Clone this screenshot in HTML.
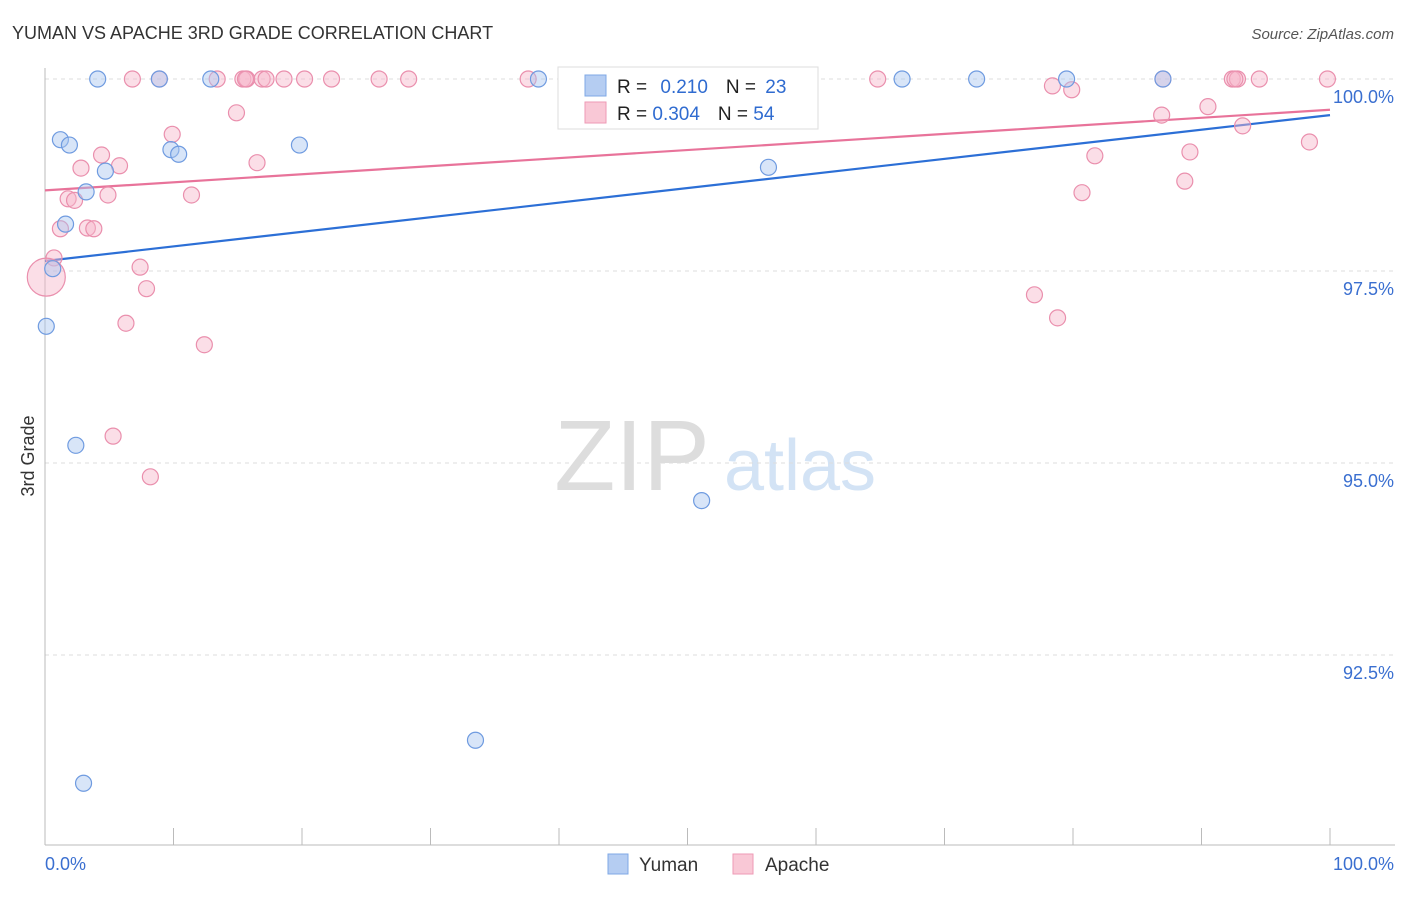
<!DOCTYPE html>
<html><head><meta charset="utf-8"><style>
body{margin:0;background:#fff;font-family:"Liberation Sans",sans-serif;}
svg text{font-family:"Liberation Sans",sans-serif;}
</style></head><body>
<svg width="1406" height="892" xmlns="http://www.w3.org/2000/svg">
<text x="12" y="39" font-size="18" fill="#333">YUMAN VS APACHE 3RD GRADE CORRELATION CHART</text>
<text x="1394" y="39" font-size="15" fill="#555" font-style="italic" text-anchor="end">Source: ZipAtlas.com</text>
<g>
<text x="632" y="490" font-size="100" fill="#ddd" font-family="Liberation Serif,serif" text-anchor="middle">ZIP</text>
<text x="800" y="490" font-size="72" fill="#d3e3f5" text-anchor="middle">atlas</text>
</g>
<g id="grid"></g>
<g id="axes"></g>
<g id="lines"></g>
<g id="pts"></g>
<text transform="translate(34,456) rotate(-90)" font-size="18" fill="#333" text-anchor="middle">3rd Grade</text>
<text x="45" y="870" font-size="18" fill="#3a6fd0">0.0%</text>
<text x="1394" y="870" font-size="18" fill="#3a6fd0" text-anchor="end">100.0%</text>
<g>
<rect x="558" y="67" width="260" height="62" fill="#fff" stroke="#ddd"/>
<rect x="585" y="75" width="21" height="21" fill="#b5cdf2" stroke="#7fa8e6"/>
<rect x="585" y="102" width="21" height="21" fill="#f9c8d6" stroke="#ee9ab5"/>
<text x="617" y="93" font-size="19" fill="#222">R = <tspan fill="#2f6bd0" dx="8">0.210</tspan><tspan dx="18" fill="#222">N = </tspan><tspan fill="#2f6bd0" dx="4">23</tspan></text>
<text x="617" y="120" font-size="19" fill="#222">R = <tspan fill="#2f6bd0">0.304</tspan><tspan dx="18" fill="#222">N = </tspan><tspan fill="#2f6bd0">54</tspan></text>
</g>
<g>
<rect x="608" y="854" width="20" height="20" fill="#b5cdf2" stroke="#7fa8e6"/>
<text x="639" y="871" font-size="19" fill="#333">Yuman</text>
<rect x="733" y="854" width="20" height="20" fill="#f9c8d6" stroke="#ee9ab5"/>
<text x="765" y="871" font-size="19" fill="#333">Apache</text>
</g>
</svg>
<script>
const yTicks=[100,97.5,95,92.5];
const yTickLabels=["100.0%","97.5%","95.0%","92.5%"];
const yumanX=[4.1,8.9,12.9,38.4,66.7,72.5,79.5,87.0,1.2,1.9,9.8,10.4,19.8,4.7,3.2,1.6,0.6,0.1,2.4,51.1,56.3,33.5,3.0];
const yumanY=[100,100,100,100,100,100,100,100,99.21,99.14,99.08,99.02,99.14,98.80,98.53,98.11,97.53,96.78,95.23,94.51,98.85,91.39,90.83];
const apacheX=[6.8,8.9,13.4,15.4,15.7,16.9,17.2,18.6,20.2,22.3,26.0,28.3,37.6,64.8,87.0,92.4,92.8,94.5,99.8,78.4,79.9,14.9,9.9,90.5,86.9,93.2,98.4,4.4,5.8,16.5,2.8,81.7,89.1,1.8,2.3,4.9,11.4,80.7,88.7,1.2,3.3,3.8,0.7,7.4,7.9,6.3,12.4,77.0,78.8,5.3,8.2,0.1,15.6,92.6];
const apacheY=[100,100,100,100,100,100,100,100,100,100,100,100,100,100,100,100,100,100,100,99.91,99.86,99.56,99.28,99.64,99.53,99.39,99.18,99.01,98.87,98.91,98.84,99.0,99.05,98.44,98.42,98.49,98.49,98.52,98.67,98.05,98.06,98.05,97.67,97.55,97.27,96.82,96.54,97.19,96.89,95.35,94.82,97.42,100,100];
const yumanTrend=[97.63,99.53];
const apacheTrend=[98.55,99.60];
const NS="http://www.w3.org/2000/svg";
const X=v=>45+v*12.85, Y=v=>79+(100-v)*76.8;
function mk(t,a,p){const e=document.createElementNS(NS,t);for(const k in a)e.setAttribute(k,a[k]);document.getElementById(p).appendChild(e);return e;}
yTicks.forEach((t,i)=>{
 const l=mk('line',{x1:45,x2:1395,y1:Y(t),y2:Y(t),stroke:'#ddd','stroke-dasharray':'4,4'},'grid');
 
 
 const tx=mk('text',{x:1394,y:Y(t)+24,'font-size':18,fill:'#3a6fd0','text-anchor':'end'},'grid');
 tx.textContent=yTickLabels[i];
 
 
});
let a=mk('line',{x1:45,x2:1395,y1:845,y2:845,stroke:'#bbb'},'axes');


a=mk('line',{x1:45,x2:45,y1:68,y2:845,stroke:'#bbb'},'axes');


for(let k=0;k<=10;k++){const t=mk('line',{x1:X(k*10),x2:X(k*10),y1:828,y2:845,stroke:'#bbb'},'axes');
 
 }
function dots(xs,ys,fill,stroke,name){xs.forEach((x,i)=>{const big=(name==='apache-point'&&i===51);
 const c=mk('circle',{cx:X(x),cy:Y(ys[i]),r:big?19:8,fill:fill,'fill-opacity':0.45,stroke:stroke,'stroke-width':1.2},'pts');
 
 });}
dots(apacheX,apacheY,'#f7b6ca','#ea8fad','apache-point');
dots(yumanX,yumanY,'#a9c5f0','#6f9be0','yuman-point');
let t=mk('line',{x1:X(0),y1:Y(apacheTrend[0]),x2:X(100),y2:Y(apacheTrend[1]),stroke:'#e8739a','stroke-width':2.2},'lines');


t=mk('line',{x1:X(0),y1:Y(yumanTrend[0]),x2:X(100),y2:Y(yumanTrend[1]),stroke:'#2c6fd6','stroke-width':2.2},'lines');


</script>
</body></html>
